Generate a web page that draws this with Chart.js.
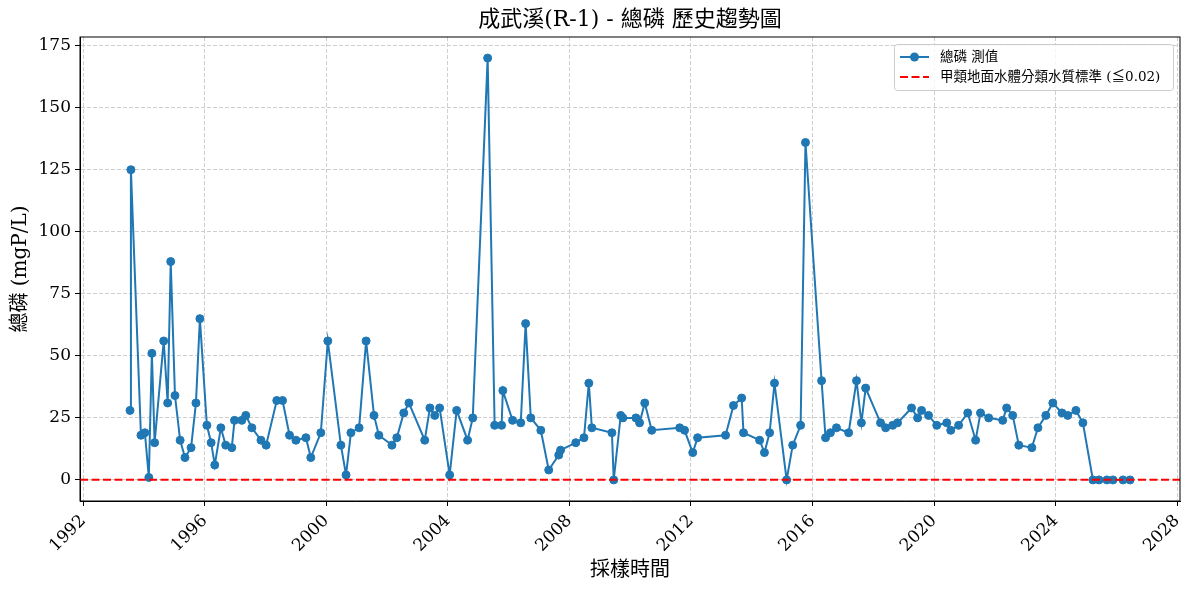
<!DOCTYPE html>
<html>
<head>
<meta charset="utf-8">
<script src="https://cdn.jsdelivr.net/npm/chart.js@4/dist/chart.umd.min.js"></script>
<style>
  body { margin: 0; background: #fff; }
  #wrap { width: 1189px; height: 590px; }
</style>
</head>
<body>
<div id="wrap"><canvas id="trendChart" width="1189" height="590"></canvas></div>
<script>
// sampling dates as decimal years
const sampleYears = [
  1993.54, 1993.57, 1993.90, 1994.03, 1994.16, 1994.26, 1994.35, 1994.65, 1994.78, 1994.88,
  1995.02, 1995.19, 1995.35, 1995.55, 1995.71, 1995.84, 1996.07, 1996.21, 1996.33, 1996.53,
  1996.69, 1996.89, 1996.98, 1997.22, 1997.35, 1997.55, 1997.85, 1998.02, 1998.37, 1998.56,
  1998.79, 1999.00, 1999.33, 1999.49, 1999.82, 2000.05, 2000.48, 2000.65, 2000.81, 2001.08,
  2001.31, 2001.57, 2001.73, 2002.16, 2002.32, 2002.55, 2002.72, 2003.24, 2003.41, 2003.57,
  2003.73, 2004.06, 2004.29, 2004.65, 2004.82, 2005.31, 2005.54, 2005.77, 2005.81, 2006.13,
  2006.40, 2006.56, 2006.73, 2007.06, 2007.32, 2007.65, 2007.71, 2008.21, 2008.48, 2008.64,
  2008.74, 2009.40, 2009.46, 2009.69, 2009.76, 2010.19, 2010.31, 2010.48, 2010.71, 2011.63,
  2011.79, 2012.06, 2012.22, 2013.14, 2013.40, 2013.67, 2013.73, 2014.26, 2014.42, 2014.59,
  2014.75, 2015.15, 2015.35, 2015.61, 2015.77, 2016.30, 2016.43, 2016.59, 2016.79, 2017.19,
  2017.45, 2017.61, 2017.75, 2018.24, 2018.41, 2018.64, 2018.80, 2019.26, 2019.46, 2019.59,
  2019.82, 2020.09, 2020.42, 2020.55, 2020.81, 2021.11, 2021.37, 2021.53, 2021.80, 2022.26,
  2022.39, 2022.59, 2022.79, 2023.22, 2023.42, 2023.68, 2023.91, 2024.21, 2024.40, 2024.67,
  2024.90, 2025.23, 2025.43, 2025.69, 2025.89, 2026.22, 2026.45
];

// 總磷 measured values (mgP/L)
const totalPhosphorus = [
  28, 125, 18, 19, 1, 51, 15, 56, 31, 88,
  34, 16, 9, 13, 31, 65, 22, 15, 6, 21,
  14, 13, 24, 24, 26, 21, 16, 14, 32, 32,
  18, 16, 17, 9, 19, 56, 14, 2, 19, 21,
  56, 26, 18, 14, 17, 27, 31, 16, 29, 26,
  29, 2, 28, 16, 25, 170, 22, 22, 36, 24,
  23, 63, 25, 20, 4, 10, 12, 15, 17, 39,
  21, 19, 0, 26, 25, 25, 23, 31, 20, 21,
  20, 11, 17, 18, 30, 33, 19, 16, 11, 19,
  39, 0, 14, 22, 136, 40, 17, 19, 21, 19,
  40, 23, 37, 23, 21, 22, 23, 29, 25, 28,
  26, 22, 23, 20, 22, 27, 16, 27, 25, 24,
  29, 26, 14, 13, 21, 26, 31, 27, 26, 28,
  23, 0, 0, 0, 0, 0, 0
];

const yearTicks = [1992, 1996, 2000, 2004, 2008, 2012, 2016, 2020, 2024, 2028];
const valueTicks = [0, 25, 50, 75, 100, 125, 150, 175];
const standardLimit = 0.02; // 甲類地面水體 standard

const serif = '"DejaVu Serif", "Noto Sans CJK TC", serif';

// matplotlib-like 5% margins
const xSpan = Math.max(...sampleYears) - Math.min(...sampleYears);
const xMin = Math.min(...sampleYears) - xSpan * 0.05;
const xMax = Math.max(...sampleYears) + xSpan * 0.05;
const ySpan = Math.max(...totalPhosphorus) - Math.min(...totalPhosphorus);
const yMin = Math.min(...totalPhosphorus) - ySpan * 0.05;
const yMax = Math.max(...totalPhosphorus) + ySpan * 0.05;

const points = sampleYears.map((yr, i) => ({ x: yr, y: totalPhosphorus[i] }));

const decorPlugin = {
  id: 'decor',
  afterDraw(chart) {
    const { ctx, chartArea: a } = chart;
    ctx.save();
    // full box
    ctx.strokeStyle = '#000';
    ctx.lineWidth = 1;
    ctx.strokeRect(a.left, a.top, a.right - a.left, a.bottom - a.top);

    ctx.fillStyle = '#000';
    ctx.textAlign = 'center';
    ctx.textBaseline = 'middle';
    ctx.font = '22px ' + serif;
    ctx.fillText('成武溪(R-1) - 總磷 歷史趨勢圖', (a.left + a.right) / 2, 20);

    ctx.font = '20px ' + serif;
    ctx.fillText('採樣時間', (a.left + a.right) / 2, 571);

    ctx.save();
    ctx.translate(21, (a.top + a.bottom) / 2);
    ctx.rotate(-Math.PI / 2);
    ctx.fillText('總磷 (mgP/L)', 0, 0);
    ctx.restore();

    // legend
    const lx = 894, ly = 44, lw = 279, lh = 46;
    ctx.fillStyle = 'rgba(255,255,255,0.8)';
    ctx.strokeStyle = '#cccccc';
    ctx.beginPath();
    ctx.roundRect(lx + 0.5, ly + 0.5, lw, lh, 3);
    ctx.fill();
    ctx.stroke();

    ctx.lineWidth = 2;
    ctx.strokeStyle = '#1f77b4';
    ctx.beginPath();
    ctx.moveTo(900, 57);
    ctx.lineTo(929, 57);
    ctx.stroke();
    ctx.fillStyle = '#1f77b4';
    ctx.beginPath();
    ctx.arc(914.5, 57, 4.5, 0, Math.PI * 2);
    ctx.fill();

    ctx.strokeStyle = 'red';
    ctx.setLineDash([8, 3.5]);
    ctx.beginPath();
    ctx.moveTo(900, 77);
    ctx.lineTo(929, 77);
    ctx.stroke();
    ctx.setLineDash([]);

    ctx.fillStyle = '#000';
    ctx.textAlign = 'left';
    ctx.font = '13.5px ' + serif;
    ctx.fillText('總磷 測值', 940, 57);
    ctx.fillText('甲類地面水體分類水質標準 (≦0.02)', 940, 77);
    ctx.restore();
  }
};

const gridOpts = {
  color: '#cfcfcf',
  lineWidth: 1,
  tickColor: '#000',
  tickLength: 5,
  tickWidth: 1
};

new Chart(document.getElementById('trendChart'), {
  type: 'line',
  data: {
    datasets: [
      {
        label: '甲類地面水體分類水質標準 (≦0.02)',
        data: [{ x: xMin, y: standardLimit }, { x: xMax, y: standardLimit }],
        borderColor: 'red',
        borderWidth: 2,
        borderDash: [8, 3.5],
        pointRadius: 0,
        order: 0
      },
      {
        label: '總磷 測值',
        data: points,
        borderColor: '#1f77b4',
        backgroundColor: '#1f77b4',
        borderWidth: 2,
        pointRadius: 4,
        pointBorderWidth: 1,
        pointBackgroundColor: '#1f77b4',
        pointBorderColor: '#1f77b4',
        tension: 0,
        order: 1
      }
    ]
  },
  options: {
    responsive: false,
    animation: false,
    layout: { padding: { top: 37, right: 9, left: 0, bottom: 0 } },
    plugins: {
      legend: { display: false },
      tooltip: { enabled: false },
      title: { display: false }
    },
    scales: {
      x: {
        type: 'linear',
        min: xMin,
        max: xMax,
        afterBuildTicks: s => { s.ticks = yearTicks.map(v => ({ value: v })); },
        afterFit: s => { s.height = 89; s.paddingLeft = 0; s.paddingRight = 0; },
        ticks: {
          callback: v => String(v),
          color: '#000',
          font: { family: serif, size: 17 },
          minRotation: 45,
          maxRotation: 45,
          autoSkip: false,
          padding: 5
        },
        grid: gridOpts,
        border: { display: true, color: '#000', width: 1, dash: [4, 2] }
      },
      y: {
        type: 'linear',
        min: yMin,
        max: yMax,
        afterBuildTicks: s => { s.ticks = valueTicks.map(v => ({ value: v })); },
        afterFit: s => { s.width = 80; s.paddingTop = 0; s.paddingBottom = 0; },
        ticks: {
          color: '#000',
          font: { family: serif, size: 17 },
          padding: 4
        },
        grid: gridOpts,
        border: { display: true, color: '#000', width: 1, dash: [4, 2] }
      }
    }
  },
  plugins: [decorPlugin]
});
</script>
</body>
</html>
